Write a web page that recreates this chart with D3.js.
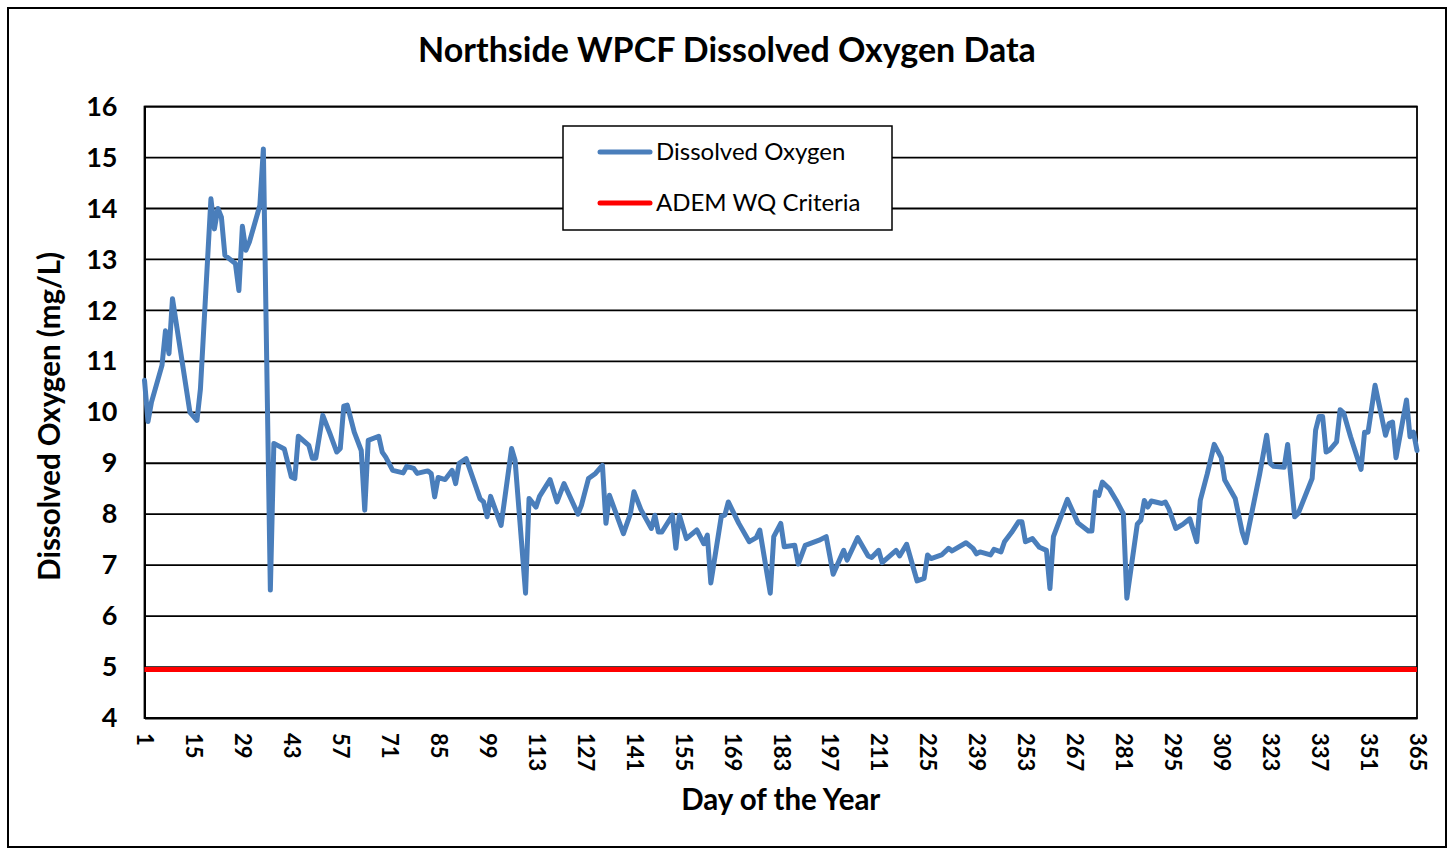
<!DOCTYPE html>
<html>
<head>
<meta charset="utf-8">
<script src="https://cdn.jsdelivr.net/npm/d3@7/dist/d3.min.js"></script>
<style>
  html, body { margin: 0; padding: 0; background: #fff; }
  svg { display: block; }
  text { font-family: Lato, "Open Sans", "Liberation Sans", sans-serif; fill: #000; }
</style>
</head>
<body>
<svg id="chart" width="1453" height="850"></svg>
<script>
// Day of the year for each sample
const days = [
  1, 2, 3, 6, 7, 8, 9, 14, 16, 17, 20, 21, 22, 23, 24, 27, 28, 29, 30, 31,
  34, 35, 37, 38, 41, 43, 44, 45, 48, 49, 50, 52, 54, 56, 57, 58, 59, 61, 63, 64,
  65, 68, 69, 70, 72, 75, 76, 78, 79, 82, 83, 84, 85, 87, 89, 90, 91, 93, 97, 98,
  99, 100, 103, 106, 107, 110, 111, 113, 114, 117, 119, 121, 125, 126, 128, 130, 132, 133, 134, 138,
  140, 141, 143, 146, 147, 148, 149, 152, 153, 154, 156, 159, 161, 162, 163, 166, 167, 168, 171, 174,
  176, 177, 180, 181, 183, 184, 187, 188, 190, 194, 196, 198, 201, 202, 205, 208, 209, 211, 212, 216,
  217, 219, 222, 224, 225, 226, 229, 231, 232, 236, 238, 239, 240, 243, 244, 246, 247, 249, 251, 252,
  253, 255, 257, 259, 260, 261, 265, 268, 271, 272, 273, 274, 275, 277, 279, 281, 282, 285, 286, 287,
  288, 289, 292, 293, 294, 296, 298, 300, 302, 303, 305, 307, 309, 310, 313, 315, 316, 320, 322, 323,
  324, 327, 328, 330, 331, 335, 336, 337, 338, 339, 340, 342, 343, 344, 346, 349, 350, 351, 353, 356,
  357, 358, 359, 362, 363, 364, 365
];

// Dissolved oxygen, mg/L
const dissolvedOxygen = [
  10.63, 9.82, 10.2, 10.92, 11.6, 11.15, 12.23, 10.0, 9.84, 10.46, 14.19, 13.6, 14.0, 13.83, 13.08, 12.92, 12.39, 13.65, 13.18, 13.34,
  14.06, 15.17, 6.51, 9.39, 9.28, 8.73, 8.70, 9.53, 9.35, 9.1, 9.1, 9.94, 9.59, 9.22, 9.29, 10.12, 10.14, 9.61, 9.25, 8.08,
  9.45, 9.53, 9.22, 9.12, 8.86, 8.81, 8.94, 8.9, 8.8, 8.85, 8.8, 8.34, 8.72, 8.68, 8.86, 8.6, 9.0, 9.09, 8.3, 8.24,
  7.95, 8.35, 7.78, 9.29, 9.06, 6.45, 8.31, 8.14, 8.35, 8.68, 8.24, 8.6, 8.0, 8.18, 8.7, 8.8, 8.96, 7.82, 8.37, 7.62,
  8.01, 8.44, 8.09, 7.72, 7.98, 7.65, 7.65, 7.98, 7.33, 7.98, 7.52, 7.69, 7.42, 7.59, 6.65, 7.96, 7.98, 8.24, 7.82, 7.46,
  7.54, 7.69, 6.45, 7.56, 7.82, 7.36, 7.39, 7.02, 7.39, 7.49, 7.56, 6.82, 7.29, 7.1, 7.54, 7.18, 7.15, 7.29, 7.05, 7.29,
  7.18, 7.41, 6.69, 6.74, 7.2, 7.13, 7.2, 7.33, 7.28, 7.44, 7.33, 7.22, 7.26, 7.2, 7.31, 7.26, 7.46, 7.64, 7.85, 7.85,
  7.46, 7.52, 7.35, 7.29, 6.54, 7.56, 8.29, 7.83, 7.67, 7.67, 8.44, 8.37, 8.63, 8.5, 8.27, 8.01, 6.35, 7.81, 7.88, 8.27,
  8.14, 8.26, 8.21, 8.24, 8.11, 7.72, 7.8, 7.91, 7.46, 8.27, 8.79, 9.37, 9.11, 8.67, 8.31, 7.65, 7.44, 8.79, 9.55, 9.0,
  8.94, 8.92, 9.37, 7.95, 8.01, 8.7, 9.65, 9.92, 9.92, 9.22, 9.26, 9.42, 10.05, 9.99, 9.52, 8.88, 9.61, 9.61, 10.53, 9.55,
  9.78, 9.81, 9.11, 10.24, 9.52, 9.61, 9.25
];

// ADEM water-quality criterion, held constant across the year
const criteriaDays = [1, 365];
const criteriaValues = [4.95, 4.95];

// Axis ticks
const xTickLabels = [1, 15, 29, 43, 57, 71, 85, 99, 113, 127, 141, 155, 169, 183, 197, 211, 225, 239, 253, 267, 281, 295, 309, 323, 337, 351, 365];
const yTickLabels = [4, 5, 6, 7, 8, 9, 10, 11, 12, 13, 14, 15, 16];

const seriesNames = ["Dissolved Oxygen", "ADEM WQ Criteria"];
const seriesColors = ["#4a7ebb", "#ff0000"];

const W = 1453, H = 850;
const plot = { left: 144.5, right: 1417, top: 106.6, bottom: 718 };

const svg = d3.select("#chart");

svg.append("rect").attr("x", 0).attr("y", 0).attr("width", W).attr("height", H).attr("fill", "#fff");
// outer chart frame
svg.append("rect").attr("x", 8).attr("y", 8).attr("width", 1438).attr("height", 839)
  .attr("fill", "none").attr("stroke", "#000").attr("stroke-width", 2);

const x = d3.scaleLinear().domain([1, 365]).range([plot.left, plot.right]);
const y = d3.scaleLinear().domain([4, 16]).range([plot.bottom, plot.top]);

// horizontal gridlines
svg.append("g")
  .selectAll("line")
  .data(yTickLabels)
  .join("line")
  .attr("x1", plot.left).attr("x2", plot.right)
  .attr("y1", d => y(d)).attr("y2", d => y(d))
  .attr("stroke", "#000").attr("stroke-width", 1.8);

// plot frame
svg.append("rect")
  .attr("x", plot.left).attr("y", plot.top)
  .attr("width", plot.right - plot.left).attr("height", plot.bottom - plot.top)
  .attr("fill", "none").attr("stroke", "#000").attr("stroke-width", 1.8);

// y axis
const yAxis = svg.append("g")
  .attr("transform", `translate(${plot.left},0)`)
  .call(d3.axisLeft(y).tickValues(yTickLabels).tickSize(0).tickPadding(27).tickFormat(d3.format("d")));
yAxis.select(".domain").attr("stroke", "#000").attr("stroke-width", 2);
yAxis.selectAll("text")
  .style("font-size", "27px").style("font-weight", "700").attr("fill", "#000");

// x axis with vertical labels
const xAxis = svg.append("g")
  .attr("transform", `translate(0,${plot.bottom})`)
  .call(d3.axisBottom(x).tickValues(xTickLabels).tickSize(0).tickFormat(d3.format("d")));
xAxis.select(".domain").attr("stroke", "#000").attr("stroke-width", 2);
xAxis.selectAll("text")
  .attr("transform", "rotate(90)")
  .attr("x", 15).attr("y", 0).attr("dy", "0.35em")
  .style("text-anchor", "start")
  .style("font-size", "22px").style("font-weight", "700").attr("fill", "#000");

// criteria line
const line = d3.line().x(d => x(d[0])).y(d => y(d[1]));
svg.append("path")
  .datum(d3.zip(criteriaDays, criteriaValues))
  .attr("d", line)
  .attr("fill", "none").attr("stroke", seriesColors[1]).attr("stroke-width", 5);

// dissolved oxygen series
svg.append("path")
  .datum(d3.zip(days, dissolvedOxygen))
  .attr("d", line)
  .attr("fill", "none").attr("stroke", seriesColors[0]).attr("stroke-width", 5)
  .attr("stroke-linejoin", "round").attr("stroke-linecap", "round");

// title
svg.append("text")
  .attr("x", 727).attr("y", 62)
  .attr("text-anchor", "middle")
  .style("font-size", "34px").style("font-weight", "700")
  .text("Northside WPCF Dissolved Oxygen Data");

// axis titles
svg.append("text")
  .attr("transform", `translate(60,${(plot.top + plot.bottom) / 2 + 4}) rotate(-90)`)
  .attr("text-anchor", "middle")
  .style("font-size", "29.5px").style("font-weight", "700")
  .text("Dissolved Oxygen (mg/L)");

svg.append("text")
  .attr("x", (plot.left + plot.right) / 2).attr("y", 810)
  .attr("text-anchor", "middle")
  .style("font-size", "29.5px").style("font-weight", "700")
  .text("Day of the Year");

// legend
const legend = svg.append("g");
legend.append("rect")
  .attr("x", 563).attr("y", 126).attr("width", 329).attr("height", 104)
  .attr("fill", "#fff").attr("stroke", "#000").attr("stroke-width", 1.5);
const rows = legend.selectAll("g.item")
  .data(seriesNames)
  .join("g").attr("class", "item")
  .attr("transform", (d, i) => `translate(0,${152 + i * 51})`);
rows.append("line")
  .attr("x1", 600).attr("x2", 650).attr("y1", 0).attr("y2", 0)
  .attr("stroke", (d, i) => seriesColors[i]).attr("stroke-width", 5).attr("stroke-linecap", "round");
rows.append("text")
  .attr("x", 656).attr("y", 0).attr("dy", "0.35em")
  .style("font-size", "24px")
  .text(d => d);
</script>
</body>
</html>
